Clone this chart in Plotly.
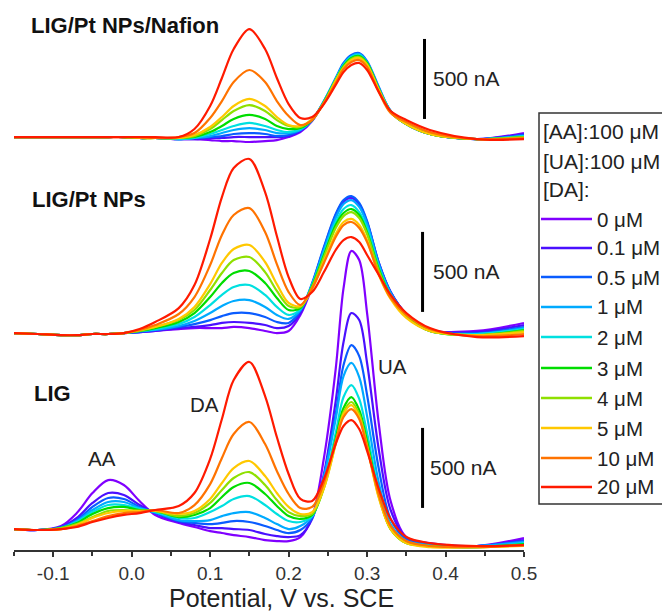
import plotly.graph_objects as go

# ---------------- data ----------------
POTENTIAL_V = [-0.15, -0.12, -0.09, -0.07, -0.05, -0.03, -0.01, 0.01, 0.03, 0.06, 0.08, 0.10,
               0.115, 0.13, 0.15, 0.17, 0.185, 0.20, 0.215, 0.23, 0.245, 0.26, 0.27, 0.28,
               0.29, 0.30, 0.315, 0.33, 0.35, 0.38, 0.44, 0.50]

DA_LABELS = ["0 μM", "0.1 μM", "0.5 μM", "1 μM", "2 μM", "3 μM", "4 μM", "5 μM", "10 μM", "20 μM"]
COLORS = ["#8000ff", "#4a10ff", "#0a5cff", "#00aaff", "#00e0e0", "#00dd00",
          "#8fe000", "#ffc800", "#ff7300", "#ff1a00"]

TICK_VALUES = [-0.1, 0.0, 0.1, 0.2, 0.3, 0.4, 0.5]
TICK_LABELS = ["-0.1", "0.0", "0.1", "0.2", "0.3", "0.4", "0.5"]

# current (nA) relative to each panel's baseline, one list per [DA]
NAFION_NA = [
    [0,0,0,0,0,0,0,-6,-6,-13,-13,-19,-25,-25,-31,-25,-19,0,31,100,219,356,444,494,506,463,300,156,81,19,-13,25],
    [0,0,0,0,0,0,0,-6,-6,-13,-13,-6,-6,0,0,0,0,6,38,106,219,363,450,500,513,463,300,163,81,19,-13,19],
    [0,0,0,0,0,0,0,-6,-6,-13,-6,0,6,19,25,19,6,13,44,106,225,369,463,513,525,475,313,163,81,19,-13,13],
    [0,0,0,0,0,0,0,-6,-6,-13,-6,6,25,44,56,44,25,25,44,106,225,363,456,506,519,469,306,163,81,19,-13,6],
    [0,0,0,0,0,0,0,-6,-6,-13,-6,19,44,69,88,69,44,31,50,106,219,363,450,500,513,463,300,163,81,19,-13,6],
    [0,0,0,0,0,0,0,-6,-6,-6,0,31,69,113,138,113,69,50,56,106,219,356,444,494,506,463,300,156,81,19,-13,0],
    [0,0,0,0,0,0,0,-6,-6,-6,6,50,106,163,200,163,106,69,63,113,213,356,438,488,500,456,294,156,81,19,-13,0],
    [0,0,0,0,0,0,0,-6,-6,-6,13,63,125,194,238,194,125,75,69,113,213,350,431,481,494,450,294,156,81,19,-13,-6],
    [0,0,0,0,0,0,0,0,-6,0,25,119,225,344,419,344,225,131,75,106,213,338,425,469,481,438,281,150,94,31,-13,-6],
    [0,0,0,0,0,0,0,0,0,0,50,194,369,550,675,550,369,206,119,125,206,325,406,450,463,419,281,163,106,44,-13,-13],
]

PTNP_NA = [
    [0,-6,-13,-13,-6,-6,0,6,13,25,31,31,31,38,31,13,0,13,113,288,525,731,819,844,800,688,431,256,119,19,13,63],
    [0,-6,-13,-13,-6,-6,0,6,13,31,38,50,63,69,63,50,31,44,125,306,531,738,825,850,806,694,438,256,119,19,6,50],
    [0,-6,-13,-13,-6,-6,0,6,19,38,56,81,106,125,125,100,69,63,138,313,538,744,831,856,813,700,438,256,119,19,0,38],
    [0,-6,-13,-13,-6,-6,0,13,19,44,75,125,169,200,206,163,113,88,144,306,519,719,806,831,788,681,425,250,113,13,-6,31],
    [0,-6,-13,-13,-6,-6,0,13,25,56,100,175,238,288,300,238,163,113,150,300,500,694,775,800,756,656,413,238,113,13,-6,25],
    [0,-6,-13,-13,-6,-6,0,13,31,69,125,225,313,375,388,313,219,144,156,294,488,675,750,775,738,631,400,231,106,13,-13,19],
    [0,-6,-13,-13,-6,-6,0,13,38,81,144,269,375,456,475,381,263,169,163,288,475,656,731,756,719,619,388,225,100,13,-13,13],
    [0,-6,-13,-13,-6,-6,0,19,38,88,163,306,438,525,550,444,306,188,169,275,450,619,694,713,675,581,363,213,94,13,-13,6],
    [0,-6,-13,-13,-6,-6,0,19,50,119,225,425,613,738,781,631,431,256,175,281,438,600,675,694,656,569,369,219,113,25,-19,-6],
    [0,-6,-13,-13,-6,-6,0,25,69,156,300,588,850,1031,1088,881,606,350,213,256,381,519,581,600,569,488,363,238,125,31,-25,-19],
]

LIG_NA = [
    [0,-6,19,100,225,306,275,175,88,38,13,-13,-25,-38,-50,-69,-75,-75,-50,75,444,1000,1506,1738,1681,1350,656,175,-50,-88,-106,-56],
    [0,-6,13,69,163,225,213,150,100,44,25,6,6,0,-6,-31,-44,-50,-38,63,344,800,1169,1350,1306,1038,494,119,-56,-94,-106,-69],
    [0,-6,13,56,138,194,188,138,100,50,38,31,38,50,44,19,-6,-25,-6,69,331,719,1025,1150,1081,838,375,63,-63,-94,-106,-75],
    [0,-6,6,50,119,169,169,131,106,56,50,56,81,100,106,69,31,0,19,81,325,688,956,1038,950,706,288,31,-75,-100,-106,-81],
    [0,-6,6,44,106,150,150,125,106,69,69,106,144,188,206,150,94,50,44,81,281,600,825,900,813,600,238,13,-81,-106,-113,-88],
    [0,-6,6,38,94,131,138,119,113,75,88,131,200,263,288,219,144,81,63,88,263,563,756,825,744,550,213,0,-88,-106,-113,-94],
    [0,-6,6,31,75,113,119,113,113,81,100,163,244,319,356,275,181,106,81,94,256,538,731,794,719,525,200,0,-88,-106,-113,-100],
    [0,-6,0,25,69,100,113,113,113,94,113,188,288,381,425,331,225,138,94,106,256,531,719,775,700,513,194,0,-88,-113,-113,-106],
    [0,-6,0,19,50,81,100,106,119,100,150,281,444,594,669,531,363,219,131,138,288,550,700,750,688,513,213,19,-75,-106,-113,-100],
    [0,-6,0,13,44,69,88,100,119,144,225,438,688,931,1044,831,575,344,188,175,313,531,644,681,625,488,250,63,-50,-88,-106,-100],
]

PANEL_NAMES = ["LIG/Pt NPs/Nafion", "LIG/Pt NPs", "LIG"]
PANEL_DATA = [NAFION_NA, PTNP_NA, LIG_NA]
PANEL_OFFSET_NA = [2581, 1356, 131]       # vertical stacking of the three panels
SCALE_BAR_NA = 500

# ---------------- geometry ----------------
W, H = 662, 611
L, R, T, B = 14, 138, 5, 61
NA_PER_PX = 6.25
Y_MAX = (H - T - B) * NA_PER_PX
X_MIN, X_MAX = -0.15, 0.5


def xp(px):  # pixel -> paper x
    return (px - L) / (W - L - R)


def yp(py):  # pixel -> paper y
    return (H - B - py) / (H - T - B)


FONT = "Liberation Sans, Arial, sans-serif"

fig = go.Figure()

for pname, pdata, off in zip(PANEL_NAMES, PANEL_DATA, PANEL_OFFSET_NA):
    for lab, col, vals in zip(DA_LABELS, COLORS, pdata):
        fig.add_trace(go.Scatter(
            x=POTENTIAL_V, y=[v + off for v in vals], mode="lines",
            name=f"{pname} – {lab}", showlegend=False, hoverinfo="skip",
            line=dict(color=col, width=2.2, shape="spline", smoothing=0.9)))

annotations = []
shapes = []

# panel titles
for name, (px, py) in zip(PANEL_NAMES, [(29, 26), (30, 200), (32, 393)]):
    annotations.append(dict(text=f"<b>{name}</b>", xref="paper", yref="paper",
                            x=xp(px), y=yp(py), xanchor="left", yanchor="middle",
                            showarrow=False, font=dict(family=FONT, size=22, color="#111")))

# peak labels
for txt, (px, py) in zip(["AA", "DA", "UA"], [(102, 459), (204, 404), (392, 367)]):
    annotations.append(dict(text=txt, xref="paper", yref="paper", x=xp(px), y=yp(py),
                            xanchor="center", yanchor="middle", showarrow=False,
                            font=dict(family=FONT, size=20.5, color="#222")))

# scale bars (500 nA)
for off, base, bx, tx in zip(PANEL_OFFSET_NA, [113, 132, 132], [0.3732, 0.3707, 0.3707], [0.381, 0.381, 0.3775]):
    shapes.append(dict(type="line", xref="x", yref="y", x0=bx, x1=bx,
                       y0=off + base, y1=off + base + SCALE_BAR_NA,
                       line=dict(color="black", width=3)))
    annotations.append(dict(text=f"{SCALE_BAR_NA} nA", xref="x", yref="y", x=tx,
                            y=off + base + SCALE_BAR_NA / 2, xanchor="left", yanchor="middle",
                            showarrow=False, font=dict(family=FONT, size=21, color="#222")))

# axis title
annotations.append(dict(text="Potential, V vs. SCE", xref="paper", yref="paper",
                        x=xp(281), y=yp(598), xanchor="center", yanchor="middle",
                        showarrow=False, font=dict(family=FONT, size=25, color="#222")))

# legend box (drawn by hand, cut by the page edge like the original)
shapes.append(dict(type="rect", xref="paper", yref="paper", x0=xp(539), x1=xp(720),
                   y0=yp(504), y1=yp(113), line=dict(color="#333", width=1.5)))
for txt, py in zip(["[AA]:100 μM", "[UA]:100 μM", "[DA]:"], [132, 162, 190]):
    annotations.append(dict(text=txt, xref="paper", yref="paper", x=xp(541), y=yp(py),
                            xanchor="left", yanchor="middle", showarrow=False,
                            font=dict(family=FONT, size=21, color="#222")))
LEG_Y = [219, 248, 277, 307, 337, 368, 398, 428, 458, 487]
for lab, col, py in zip(DA_LABELS, COLORS, LEG_Y):
    shapes.append(dict(type="line", xref="paper", yref="paper", x0=xp(541), x1=xp(592),
                       y0=yp(py), y1=yp(py), line=dict(color=col, width=2.5)))
    annotations.append(dict(text=lab, xref="paper", yref="paper", x=xp(595), y=yp(py),
                            xanchor="left", yanchor="middle", showarrow=False,
                            font=dict(family=FONT, size=20.5, color="#222")))

fig.update_layout(
    width=W, height=H, margin=dict(l=L, r=R, t=T, b=B, autoexpand=False),
    paper_bgcolor="white", plot_bgcolor="white",
    showlegend=False, annotations=annotations, shapes=shapes,
    xaxis=dict(range=[X_MIN, X_MAX], tickvals=TICK_VALUES, ticktext=TICK_LABELS,
               ticks="outside", ticklen=5, tickwidth=1.5, tickcolor="#333",
               minor=dict(dtick=0.05, tick0=0, ticks="outside", ticklen=4, tickwidth=1.5, tickcolor="#333"),
               showline=True, linecolor="#333", linewidth=2, showgrid=False, zeroline=False,
               tickfont=dict(family=FONT, size=19, color="#333"), fixedrange=True),
    yaxis=dict(range=[0, Y_MAX], visible=False, fixedrange=True),
)

fig.write_html("out.html", config={"displayModeBar": False},
               post_script="document.body.style.margin='0';document.body.style.overflow='hidden';")
